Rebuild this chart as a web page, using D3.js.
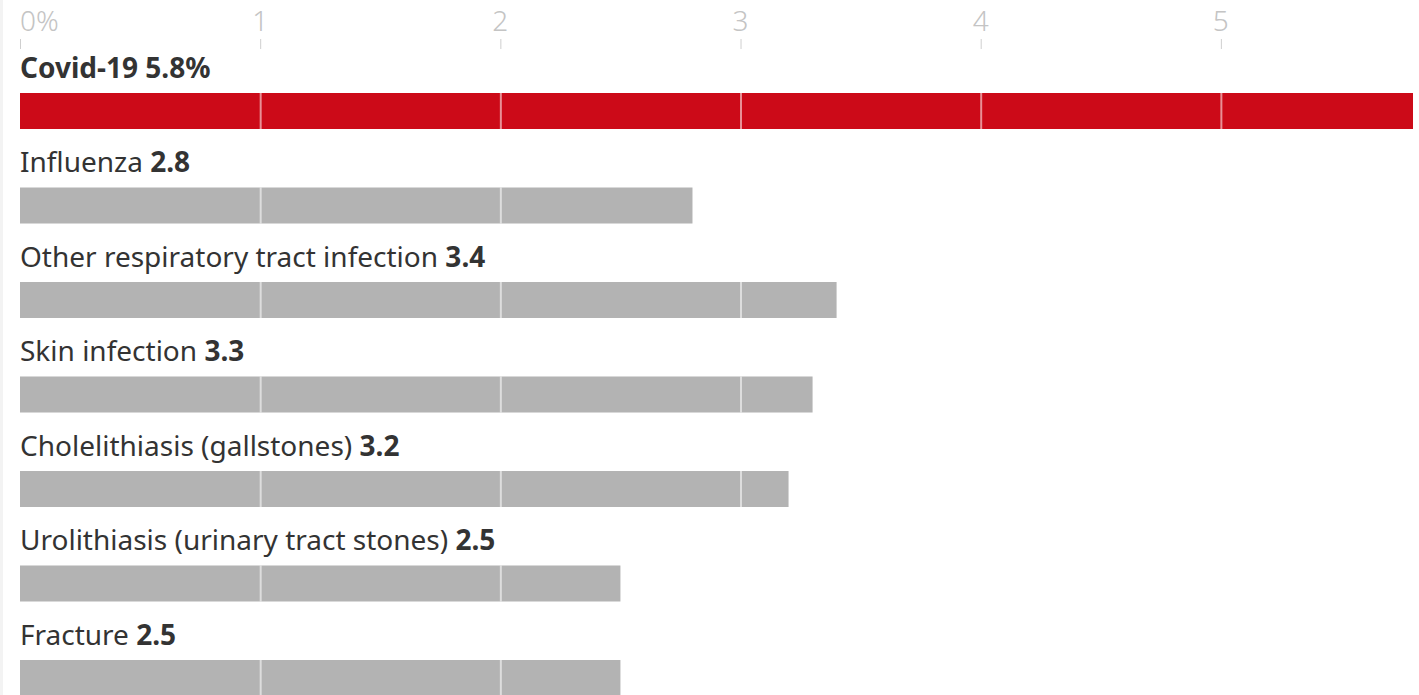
<!DOCTYPE html>
<html><head><meta charset="utf-8">
<script src="https://cdn.jsdelivr.net/npm/d3@7"></script>
<style>
html,body{margin:0;padding:0;background:#fff;}
svg{display:block;}
</style></head>
<body>
<script>
const categories = ["Covid-19","Influenza","Other respiratory tract infection","Skin infection","Cholelithiasis (gallstones)","Urolithiasis (urinary tract stones)","Fracture"];
const values = [5.8,2.8,3.4,3.3,3.2,2.5,2.5];
const valueLabels = ["5.8%","2.8","3.4","3.3","3.2","2.5","2.5"];
const tickValues = [0,1,2,3,4,5];
const tickLabels = ["0%","1","2","3","4","5"];

const W = 1419, H = 695;
const font = "'Noto Sans', sans-serif";
const svg = d3.select("body").append("svg").attr("width", W).attr("height", H);

svg.append("rect").attr("x",0).attr("y",0).attr("width",3).attr("height",H).attr("fill","#f3f3f3");

const x = d3.scaleLinear().domain([0,5.8]).range([20,1413]);
const y = d3.scaleBand().domain(categories).range([93,696]).paddingInner(0.619).paddingOuter(0);

// axis
const axis = svg.append("g");
axis.selectAll("text").data(tickValues).join("text")
  .attr("x", d=>x(d)).attr("y", 31)
  .attr("text-anchor", (d,i)=> i===0 ? "start" : "middle")
  .attr("font-family", font).attr("font-size", 28).attr("font-weight", 300)
  .attr("fill", "#c4c4c4")
  .text((d,i)=>tickLabels[i]);
axis.selectAll("line").data(tickValues).join("line")
  .attr("x1", d=>x(d)+0.5).attr("x2", d=>x(d)+0.5)
  .attr("y1", 39).attr("y2", 49)
  .attr("stroke", "#cfcfcf").attr("stroke-width", 1);

const rows = svg.selectAll("g.row").data(categories).join("g").attr("class","row");

rows.append("rect")
  .attr("x", x(0)).attr("y", d=>y(d))
  .attr("width", (d,i)=>x(values[i])-x(0))
  .attr("height", y.bandwidth())
  .attr("fill", (d,i)=> i===0 ? "#cc0a18" : "#b3b3b3");

rows.each(function(d,i){
  const g = d3.select(this);
  const ticks = tickValues.filter(t=>t>0 && t<values[i]);
  g.selectAll("line.grid").data(ticks).join("line").attr("class","grid")
    .attr("x1", t=>x(t)+0.5).attr("x2", t=>x(t)+0.5)
    .attr("y1", y(d)).attr("y2", y(d)+y.bandwidth())
    .attr("stroke", "#ffffff").attr("stroke-opacity", 0.55).attr("stroke-width", 2);
});

const lbl = rows.append("text")
  .attr("x", x(0)).attr("y", d=>y(d)-15)
  .attr("font-family", font).attr("font-size", 28)
  .attr("fill", "#333");
lbl.append("tspan")
  .attr("font-weight", (d,i)=> i===0 ? 700 : 400)
  .text(d=>d+" ");
lbl.append("tspan")
  .attr("font-weight", 700)
  .text((d,i)=>valueLabels[i]);
</script>
</body></html>
